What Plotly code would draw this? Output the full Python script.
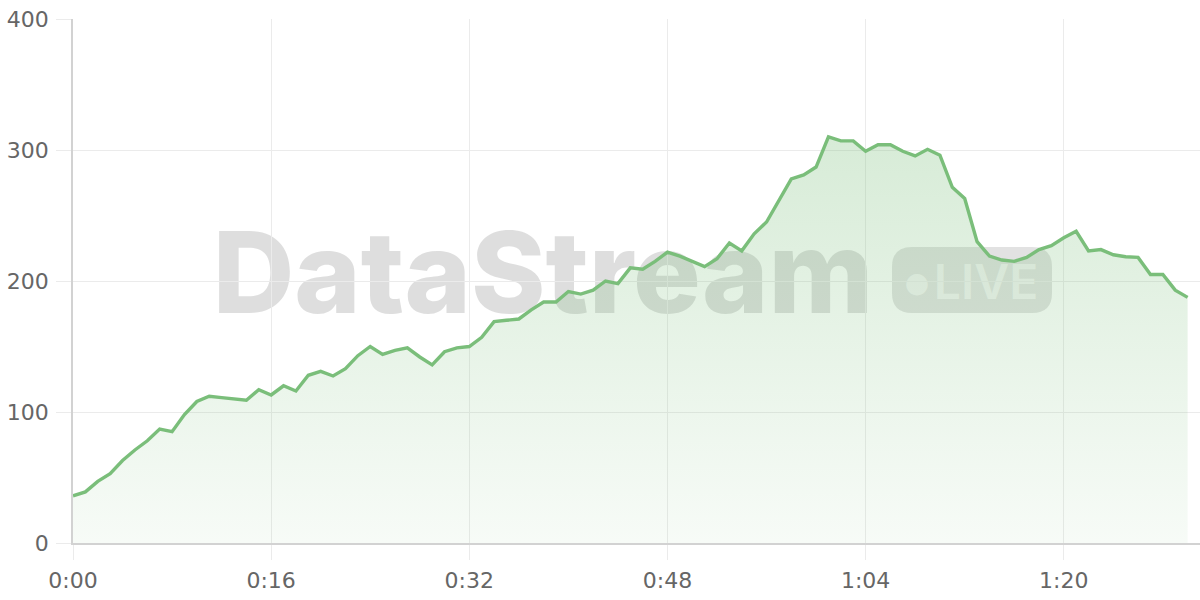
import plotly.graph_objects as go

# time in seconds, one sample per second
seconds = list(range(0, 91))
values = [
    36, 39, 47, 53, 63, 71, 78, 87, 85, 98,
    108, 112, 111, 110, 109, 117, 113, 120, 116, 128,
    131, 127.5, 133, 143, 150, 144, 147, 149, 142, 136,
    146, 149, 150, 157, 169, 170, 171, 178, 184, 184,
    192, 190, 193, 200, 198, 210, 209, 215, 222, 219,
    215, 211, 217, 229, 223, 236, 245, 261, 278, 281,
    287, 310, 307, 307, 299, 304, 304, 299, 295.5, 300.5,
    296, 271.5, 263, 230, 219, 216, 215, 218, 224, 227,
    233, 238, 223, 224, 220, 218.5, 218, 205, 205, 193,
    187.5,
]
x_tick_vals = [0, 16, 32, 48, 64, 80]
x_tick_text = ["0:00", "0:16", "0:32", "0:48", "1:04", "1:20"]
y_tick_vals = [0, 100, 200, 300, 400]
y_tick_text = ["0", "100", "200", "300", "400"]

GREEN = "rgb(122,190,122)"
GRID = "#ebebeb"
AXIS = "#d2d2d2"
TICKFONT = dict(family="DejaVu Sans, sans-serif", size=22, color="#666666")

fig = go.Figure()
fig.add_trace(go.Scatter(
    x=seconds, y=values, mode="lines",
    line=dict(color=GREEN, width=3.4),
    fill="tozeroy",
    fillgradient=dict(
        type="vertical",
        colorscale=[[0, "rgba(122,190,122,0.06)"], [1, "rgba(122,190,122,0.30)"]],
    ),
    hoverinfo="skip",
))

# plot area geometry helpers (paper coords)
L, R, T, B = 73, 0, 19, 57
PW, PH = 1200 - L - R, 600 - T - B

def px(xp):
    return (xp - L) / PW

def py(yp):
    return (600 - B - yp) / PH

# watermark word (under the traces)
fig.add_shape(
    type="rect", xref="paper", yref="paper",
    x0=px(190), x1=px(896), y0=py(318), y1=py(218),
    line=dict(width=0), fillcolor="rgba(0,0,0,0)", layer="between",
    label=dict(text="DataStream", textposition="middle center",
               font=dict(family="Inter, sans-serif", size=113, weight=800,
                         color="rgba(60,60,60,0.17)")),
)

# LIVE pill
x0, x1, y0, y1 = px(892), px(1052), py(313), py(247)
rx, ry = 20 / PW, 20 / PH
path = (
    f"M {x0+rx},{y0} L {x1-rx},{y0} Q {x1},{y0} {x1},{y0+ry} "
    f"L {x1},{y1-ry} Q {x1},{y1} {x1-rx},{y1} L {x0+rx},{y1} "
    f"Q {x0},{y1} {x0},{y1-ry} L {x0},{y0+ry} Q {x0},{y0} {x0+rx},{y0} Z"
)
fig.add_shape(
    type="path", xref="paper", yref="paper", path=path,
    line=dict(width=0), fillcolor="rgba(60,60,60,0.15)", layer="between",
)
fig.add_shape(
    type="rect", xref="paper", yref="paper",
    x0=px(902), x1=px(932), y0=y0, y1=y1,
    line=dict(width=0), fillcolor="rgba(0,0,0,0)", layer="between",
    label=dict(text="●", textposition="middle center", padding=0,
               font=dict(family="DejaVu Sans, sans-serif", size=28,
                         color="rgba(255,255,255,0.6)")),
)
fig.add_shape(
    type="rect", xref="paper", yref="paper",
    x0=px(932), x1=px(1040), y0=y0, y1=y1,
    line=dict(width=0), fillcolor="rgba(0,0,0,0)", layer="between",
    label=dict(text="LIVE", textposition="middle center", padding=0,
               font=dict(family="Inter, sans-serif", size=48, weight=600,
                         color="rgba(255,255,255,0.6)")),
)

fig.update_layout(
    width=1200, height=600,
    margin=dict(l=L, r=R, t=T, b=B, pad=0, autoexpand=False),
    paper_bgcolor="white", plot_bgcolor="white",
    showlegend=False,
    xaxis=dict(
        range=[0, 91], tickmode="array", tickvals=x_tick_vals, ticktext=x_tick_text,
        showgrid=True, gridcolor=GRID, gridwidth=1,
        showline=True, linecolor=AXIS, linewidth=1.5,
        ticks="outside", ticklen=15, tickcolor=GRID, tickwidth=1,
        tickfont=TICKFONT, zeroline=False, fixedrange=True, automargin=False,
        ticklabelstandoff=2,
    ),
    yaxis=dict(
        range=[0, 400], tickmode="array", tickvals=y_tick_vals, ticktext=y_tick_text,
        showgrid=True, gridcolor=GRID, gridwidth=1,
        showline=True, linecolor=AXIS, linewidth=1.5,
        ticks="outside", ticklen=15, tickcolor=GRID, tickwidth=1,
        tickfont=TICKFONT, zeroline=False, fixedrange=True, automargin=False,
        ticklabelstandoff=3,
    ),
)

fig.write_html(
    "out.html",
    config={"displayModeBar": False},
    post_script="document.body.style.margin='0';document.body.style.padding='0';",
)
